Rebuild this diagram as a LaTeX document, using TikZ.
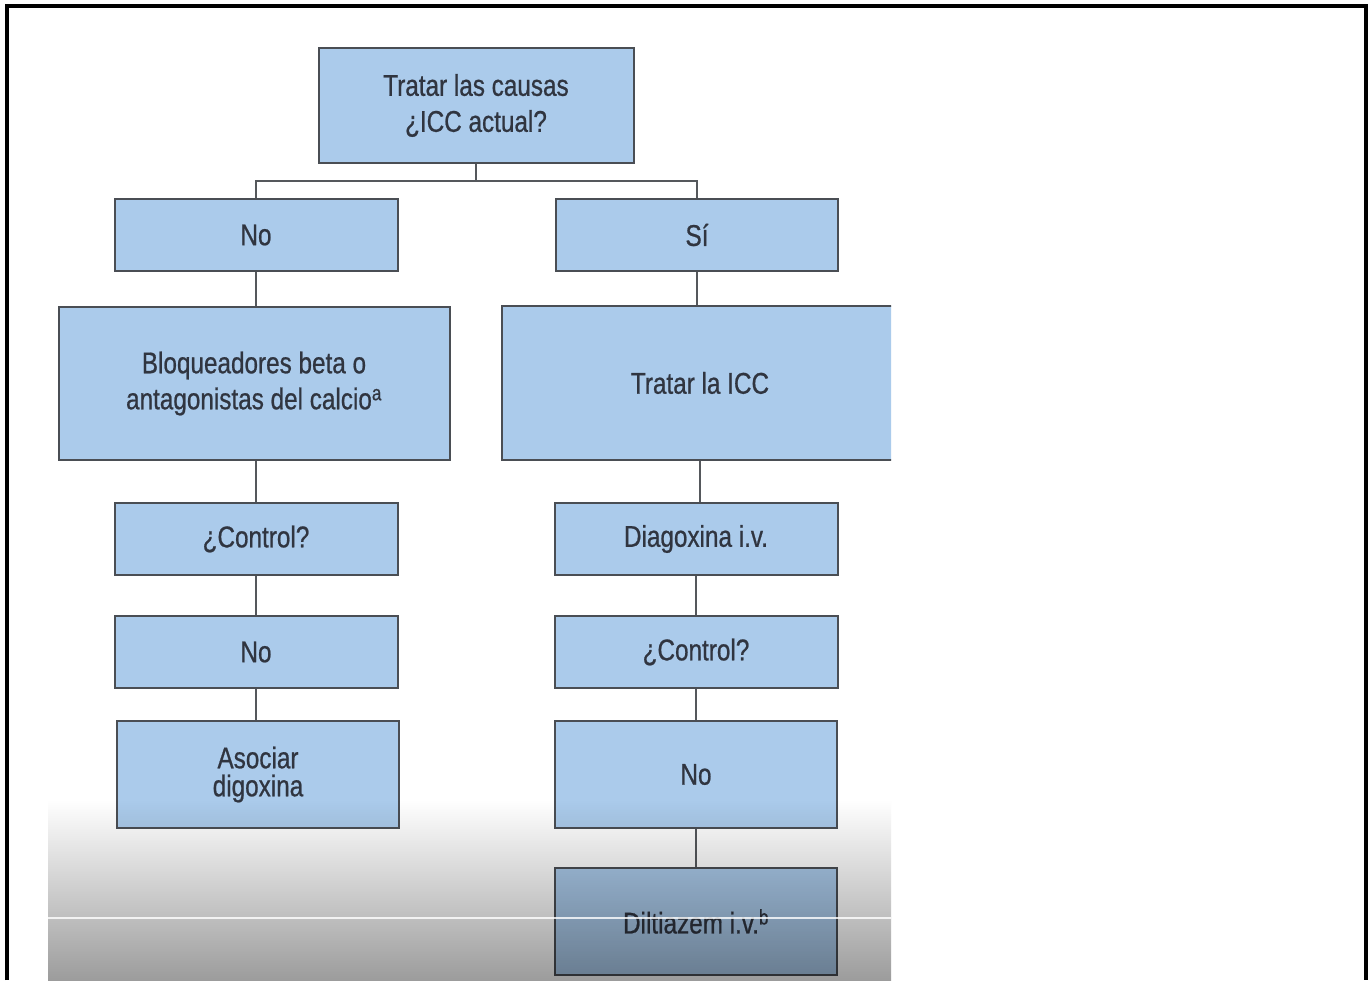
\documentclass[tikz,border=0pt]{standalone}
\usepackage{fontspec}
\usetikzlibrary{calc}
\newfontfamily\cond[FakeStretch=0.81,FakeBold=0.7]{Liberation Sans}
\definecolor{boxfill}{RGB}{171,203,235}
\definecolor{boxline}{RGB}{74,78,84}
\definecolor{txt}{RGB}{48,53,64}
\definecolor{conncol}{RGB}{85,88,92}
\tikzset{
  flowbox/.style={draw=boxline, fill=boxfill, line width=2pt, text=txt,
    font=\cond\fontsize{30}{36}\selectfont, align=center, inner sep=0pt},
  smallbox/.style={flowbox, minimum width=283pt, minimum height=72pt},
  tallbox/.style={flowbox, minimum width=282pt, minimum height=107pt},
  conn/.style={draw=conncol, line width=2pt}
}
\begin{document}
\begin{tikzpicture}[x=1pt,y=-1pt]
\useasboundingbox (0,0) rectangle (1370,980);
\fill[white] (0,0) rectangle (1370,980);
\begin{scope}
\clip (0,0) rectangle (891,980);
% nodes
\node[flowbox, minimum width=315pt, minimum height=115pt] (top) at (476,105.5) {Tratar las causas\\¿ICC actual?};
\node[smallbox] (no1) at (256,235) {No};
\node[smallbox, minimum width=282pt] (si) at (697,235) {Sí};
\node[flowbox, minimum width=391pt, minimum height=153pt] (bloq) at (254,383.5) {Bloqueadores beta o\\antagonistas del calcio\textsuperscript{a}};
\node[flowbox, minimum width=396pt, minimum height=154pt] (tic) at (700,383) {Tratar la ICC};
\node[smallbox] (ctl1) at (256,539) {¿Control?};
\node[smallbox] (no2) at (256,652) {No};
\node[tallbox, font=\cond\fontsize{30}{28}\selectfont] (asoc) at (258,774.5) {Asociar\\digoxina};
\node[smallbox] (dig) at (696,539) {Diagoxina i.v.};
\node[smallbox] (ctl2) at (696,652) {¿Control?};
\node[tallbox] (no3) at (696,774.5) {No};
\node[tallbox] (dil) at (696,921.5) {Diltiazem i.v.\textsuperscript{b}};
% connectors
\draw[conn] (top.south) |- ($(no1.north)+(0,-17)$) -- (no1.north);
\draw[conn] (top.south) |- ($(si.north)+(0,-17)$) -- (si.north);
\draw[conn] (no1.south) -- (no1.south |- bloq.north);
\draw[conn] (si.south) -- (si.south |- tic.north);
\draw[conn] (ctl1.north |- bloq.south) -- (ctl1.north);
\draw[conn] (ctl1.south) -- (no2.north);
\draw[conn] (no2.south) -- (no2.south |- asoc.north);
\draw[conn] (tic.south) -- (tic.south |- dig.north);
\draw[conn] (dig.south) -- (ctl2.north);
\draw[conn] (ctl2.south) -- (no3.north);
\draw[conn] (no3.south) -- (dil.north);
% bottom gradient overlay
\begin{scope}[blend mode=multiply]
\shade[top color=white, middle color={rgb,255:red,218;green,218;blue,218}, bottom color={rgb,255:red,156;green,156;blue,156}] (48,800) rectangle (891,980);
\end{scope}
\fill[white, opacity=0.8] (48,917) rectangle (891,919);
\end{scope}
% frame
\draw[black, line width=3.5pt] (7,980) -- (7,6) -- (1366,6) -- (1366,980);
\end{tikzpicture}
\end{document}
